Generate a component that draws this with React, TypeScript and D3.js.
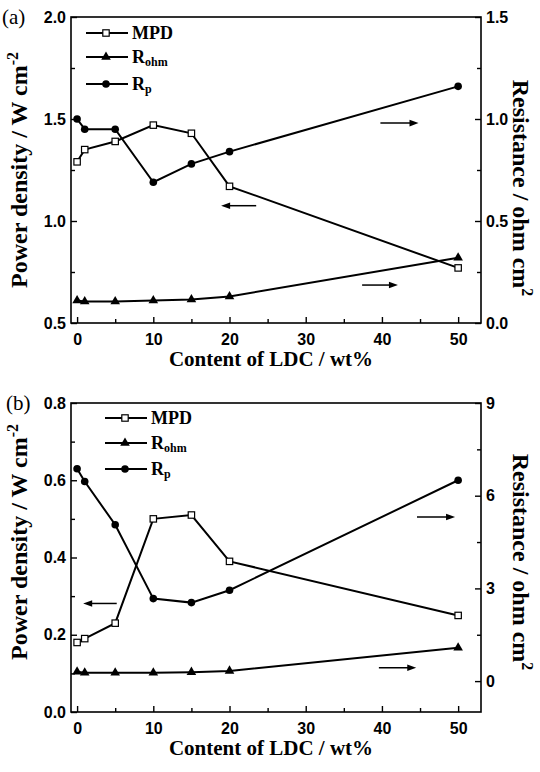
import React, { useEffect, useRef } from 'react'
import * as d3 from 'd3'

// LDC content (wt%) shared by both panels
const contents = [0, 1, 5, 10, 15, 20, 50]

// panel (a)
const mpdA = [1.29, 1.35, 1.39, 1.47, 1.43, 1.17, 0.77]
const rohmA = [0.11, 0.105, 0.105, 0.11, 0.115, 0.13, 0.32]
const rpA = [1.0, 0.95, 0.95, 0.69, 0.78, 0.84, 1.16]

// panel (b)
const mpdB = [0.18, 0.19, 0.23, 0.5, 0.51, 0.39, 0.25]
const rohmB = [0.3, 0.27, 0.27, 0.27, 0.29, 0.33, 1.08]
const rpB = [6.87, 6.46, 5.06, 2.67, 2.54, 2.94, 6.5]

const xTicks = [0, 10, 20, 30, 40, 50]
const xMinor = [5, 15, 25, 35, 45]
const leftTicksA = [0.5, 1.0, 1.5, 2.0]
const leftMinorA = [0.75, 1.25, 1.75]
const rightTicksA = [0, 0.5, 1.0, 1.5]
const rightMinorA = [0.25, 0.75, 1.25]
const leftTicksB = [0, 0.2, 0.4, 0.6, 0.8]
const leftMinorB = [0.1, 0.3, 0.5, 0.7]
const rightTicksB = [0, 3, 6, 9]
const rightMinorB = [1.5, 4.5, 7.5]

const serif = "'Liberation Serif', 'Times New Roman', serif"
const sans = "'Liberation Sans', Arial, sans-serif"

const X0 = 71, X1 = 481

function marker(g, kind, cx, cy) {
  if (kind === 'square') {
    g.append('rect').attr('x', cx - 3.2).attr('y', cy - 3.2).attr('width', 6.4).attr('height', 6.4)
      .attr('fill', '#fff').attr('stroke', '#000').attr('stroke-width', 1.2)
  } else if (kind === 'triangle') {
    g.append('path').attr('d', d3.symbol(d3.symbolTriangle, 40)()).attr('transform', `translate(${cx},${cy})`).attr('fill', '#000')
  } else {
    g.append('circle').attr('cx', cx).attr('cy', cy).attr('r', 3.8).attr('fill', '#000')
  }
}

function arrow(g, xa, xb, y) {
  const dir = xb > xa ? 1 : -1
  g.append('line').attr('x1', xa).attr('x2', xb - dir * 6).attr('y1', y).attr('y2', y).attr('stroke', '#000').attr('stroke-width', 1.5)
  g.append('path').attr('d', `M${xb},${y} L${xb - dir * 9},${y - 3.3} L${xb - dir * 9},${y + 3.3} Z`).attr('fill', '#000')
}

function drawPanel(svg, p) {
  const x = d3.scaleLinear().domain([-0.8, 53]).range([X0, X1])
  const yL = d3.scaleLinear().domain(p.left).range([p.bottom, p.top])
  const yR = d3.scaleLinear().domain(p.right).range([p.bottom, p.top])
  const g = svg.append('g')

  const noDomain = (s) => s.select('.domain').remove()

  // ticks, all pointing inward
  g.append('g').attr('transform', `translate(0,${p.bottom})`)
    .call(d3.axisBottom(x).tickValues(xTicks).tickSizeInner(-6).tickSizeOuter(0).tickPadding(11).tickFormat(d3.format('d')))
    .call(noDomain)
  g.append('g').attr('transform', `translate(0,${p.bottom})`)
    .call(d3.axisBottom(x).tickValues(xMinor).tickSizeInner(-4).tickSizeOuter(0).tickFormat(() => ''))
    .call(noDomain)
  g.append('g').attr('transform', `translate(${X0},0)`)
    .call(d3.axisLeft(yL).tickValues(p.leftTicks).tickSizeInner(-6).tickSizeOuter(0).tickPadding(5).tickFormat(d3.format(p.leftFmt)))
    .call(noDomain)
  g.append('g').attr('transform', `translate(${X0},0)`)
    .call(d3.axisLeft(yL).tickValues(p.leftMinor).tickSizeInner(-4).tickSizeOuter(0).tickFormat(() => ''))
    .call(noDomain)
  g.append('g').attr('transform', `translate(${X1},0)`)
    .call(d3.axisRight(yR).tickValues(p.rightTicks).tickSizeInner(-6).tickSizeOuter(0).tickPadding(5).tickFormat(d3.format(p.rightFmt)))
    .call(noDomain)
  g.append('g').attr('transform', `translate(${X1},0)`)
    .call(d3.axisRight(yR).tickValues(p.rightMinor).tickSizeInner(-4).tickSizeOuter(0).tickFormat(() => ''))
    .call(noDomain)

  g.selectAll('.tick line').attr('stroke', '#000').attr('stroke-width', 1.4)
  g.selectAll('.tick text').attr('font-family', sans).attr('font-weight', 'bold').attr('font-size', 16).attr('fill', '#000')

  // frame
  g.append('rect').attr('x', X0).attr('y', p.top).attr('width', X1 - X0).attr('height', p.bottom - p.top)
    .attr('fill', 'none').attr('stroke', '#000').attr('stroke-width', 1.6)

  // series
  const series = [
    { vals: p.mpd, y: yL, kind: 'square' },
    { vals: p.rohm, y: yR, kind: 'triangle' },
    { vals: p.rp, y: yR, kind: 'circle' },
  ]
  series.forEach(s => {
    const line = d3.line<number>().x((d, i) => x(contents[i])).y(d => s.y(d))
    g.append('path').attr('d', line(s.vals)).attr('fill', 'none').attr('stroke', '#000').attr('stroke-width', 2)
  })
  series.forEach(s => {
    s.vals.forEach((v, i) => marker(g, s.kind, x(contents[i]), s.y(v)))
  })

  // arrows pointing to the axis each curve belongs to
  p.arrows.forEach(a => {
    const sc = a.axis === 'left' ? yL : yR
    arrow(g, x(a.from), x(a.to), sc(a.y))
  })

  // legend
  const leg = [
    { kind: 'square', name: 'MPD', sub: '' },
    { kind: 'triangle', name: 'R', sub: 'ohm' },
    { kind: 'circle', name: 'R', sub: 'p' },
  ]
  leg.forEach((l, i) => {
    const ly = p.top + p.legendY[i]
    g.append('line').attr('x1', p.legendX).attr('x2', p.legendX + 42).attr('y1', ly).attr('y2', ly).attr('stroke', '#000').attr('stroke-width', 2)
    marker(g, l.kind, p.legendX + 20, ly)
    const t = g.append('text').attr('x', p.legendX + 46).attr('y', ly + 6)
      .attr('font-family', serif).attr('font-weight', 'bold').attr('font-size', 18).text(l.name)
    if (l.sub) t.append('tspan').attr('font-size', 12).attr('dy', 3).text(l.sub)
  })

  // panel label
  g.append('text').attr('x', p.labelX).attr('y', p.top + 7).attr('font-family', serif).attr('font-size', 21).text(p.label)

  // axis titles
  g.append('text').attr('x', 271).attr('y', p.bottom + 43).attr('text-anchor', 'middle')
    .attr('font-family', serif).attr('font-weight', 'bold').attr('font-size', 21).text('Content of LDC / wt%')

  const ly = g.append('text').attr('transform', `translate(27,${p.leftTitleY}) rotate(-90)`).attr('text-anchor', 'middle')
    .attr('font-family', serif).attr('font-weight', 'bold').attr('font-size', 24)
  ly.append('tspan').text('Power density / W cm')
  ly.append('tspan').attr('font-size', 16).attr('dy', -9).text('-2')

  const ry = g.append('text').attr('transform', `translate(513,${p.rightTitleY}) rotate(90)`).attr('text-anchor', 'middle')
    .attr('font-family', serif).attr('font-weight', 'bold').attr('font-size', 24)
  ry.append('tspan').text('Resistance / ohm cm')
  ry.append('tspan').attr('font-size', 16).attr('dy', -9).text('2')
}

export default function App() {
  const ref = useRef<SVGSVGElement>(null)

  useEffect(() => {
    const svg = d3.select(ref.current)
    svg.selectAll('*').remove()

    drawPanel(svg, {
      label: '(a)', labelX: 2, top: 17, bottom: 323,
      left: [0.5, 2.0], right: [0, 1.5],
      leftTicks: leftTicksA, leftMinor: leftMinorA, rightTicks: rightTicksA, rightMinor: rightMinorA,
      leftFmt: '.1f', rightFmt: '.1f',
      mpd: mpdA, rohm: rohmA, rp: rpA,
      legendX: 86, legendY: [16, 40, 67],
      leftTitleY: 170, rightTitleY: 188,
      arrows: [
        { axis: 'right', from: 39.8, to: 44.8, y: 0.98 },
        { axis: 'left', from: 23.5, to: 18.9, y: 1.075 },
        { axis: 'right', from: 37.4, to: 42.1, y: 0.186 },
      ],
    })

    drawPanel(svg, {
      label: '(b)', labelX: 6, top: 403, bottom: 712,
      left: [0, 0.8], right: [-1, 9],
      leftTicks: leftTicksB, leftMinor: leftMinorB, rightTicks: rightTicksB, rightMinor: rightMinorB,
      leftFmt: '.1f', rightFmt: 'd',
      mpd: mpdB, rohm: rohmB, rp: rpB,
      legendX: 105, legendY: [15, 40, 66],
      leftTitleY: 542, rightTitleY: 562,
      arrows: [
        { axis: 'right', from: 44.6, to: 49.6, y: 5.31 },
        { axis: 'left', from: 5.2, to: 0.8, y: 0.281 },
        { axis: 'right', from: 39.6, to: 44.5, y: 0.43 },
      ],
    })
  }, [])

  return (
    <svg ref={ref} width={540} height={772} viewBox="0 0 540 772"
      style={{ position: 'absolute', left: 0, top: 0, background: '#fff' }} />
  )
}
